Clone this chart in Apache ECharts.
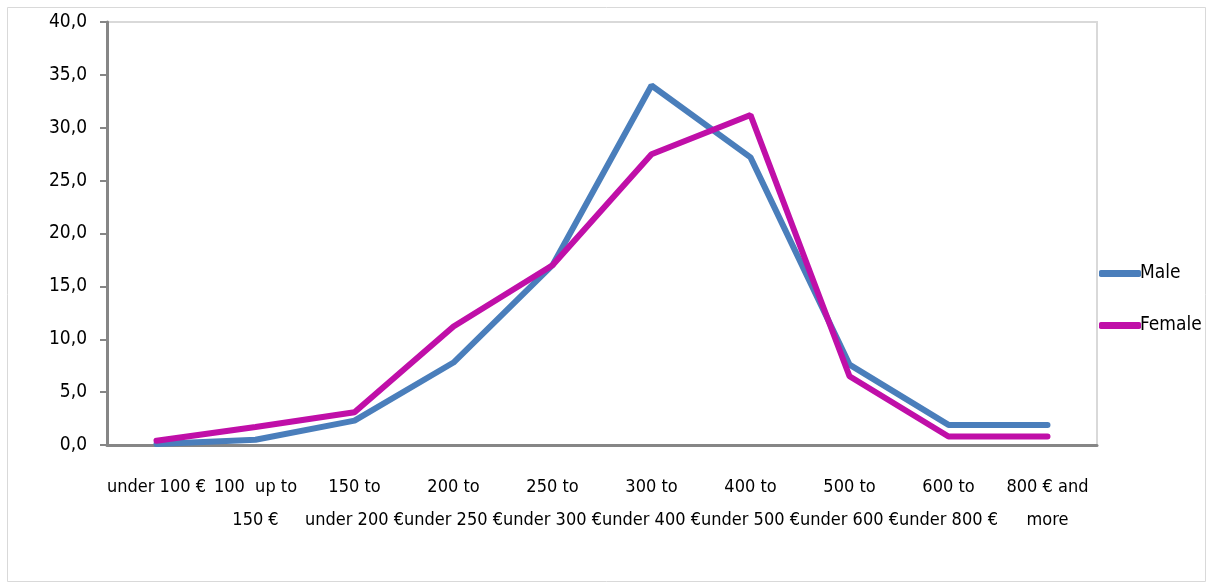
<!DOCTYPE html>
<html>
<head>
<meta charset="utf-8">
<script src="https://cdn.jsdelivr.net/npm/echarts@6/dist/echarts.min.js"></script>
<style>
html,body{margin:0;padding:0;background:#fff;}
#chart{width:1208px;height:584px;}
</style>
</head>
<body>
<div id="chart"></div>
<script>
var categories = ['under 100 €', '100  up to\n150 €', '150 to\nunder 200 €', '200 to\nunder 250 €', '250 to\nunder 300 €',
  '300 to\nunder 400 €', '400 to\nunder 500 €', '500 to\nunder 600 €', '600 to\nunder 800 €', '800 € and\nmore'];
var male = [0.1, 0.5, 2.3, 7.8, 17.0, 34.0, 27.2, 7.6, 1.9, 1.9];
var female = [0.4, 1.7, 3.1, 11.2, 17.0, 27.5, 31.2, 6.5, 0.8, 0.8];

var font = "'DejaVu Sans Condensed', sans-serif";
var chart = echarts.init(document.getElementById('chart'));
chart.setOption({
  animation: false,
  backgroundColor: '#fff',
  graphic: [{
    type: 'rect', left: 5, top: 5,
    shape: { width: 1198, height: 574 },
    style: { fill: 'none', stroke: '#d9d9d9', lineWidth: 1 }
  }],
  grid: {
    left: 107, right: 111, top: 22, bottom: 139,
    show: true, borderColor: '#d9d9d9', borderWidth: 2
  },
  legend: {
    orient: 'vertical',
    left: 1094, top: 259,
    itemWidth: 42, itemHeight: 7, itemGap: 33,
    icon: 'roundRect',
    textStyle: { fontFamily: font, fontSize: 19, color: '#000', padding: [0, 0, 0, -6] },
    data: ['Male', 'Female']
  },
  xAxis: {
    type: 'category',
    data: categories,
    boundaryGap: true,
    axisLine: { lineStyle: { color: '#868686', width: 3 } },
    axisTick: { length: 7, lineStyle: { color: '#868686', width: 2 } },
    axisLabel: {
      interval: 0, margin: 26, color: '#000',
      fontFamily: font, fontSize: 18, lineHeight: 33
    }
  },
  yAxis: {
    type: 'value',
    min: 0, max: 40, interval: 5,
    splitLine: { show: false },
    axisLine: { show: true, lineStyle: { color: '#868686', width: 3 } },
    axisTick: { show: true, length: 7, lineStyle: { color: '#868686', width: 2 } },
    axisLabel: {
      margin: 20, color: '#000', fontFamily: font, fontSize: 19,
      formatter: function (v) { return v.toFixed(1).replace('.', ','); }
    }
  },
  series: [
    {
      name: 'Male', type: 'line', data: male,
      symbol: 'none', color: '#4A7EBB',
      lineStyle: { width: 6, color: '#4A7EBB', cap: 'round' }
    },
    {
      name: 'Female', type: 'line', data: female,
      symbol: 'none', color: '#C00FA8',
      lineStyle: { width: 6, color: '#C00FA8', cap: 'round' }
    }
  ]
});
</script>
</body>
</html>
